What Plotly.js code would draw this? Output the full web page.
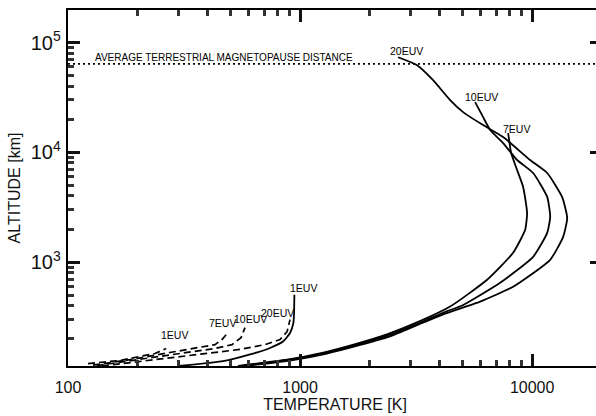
<!DOCTYPE html>
<html>
<head>
<meta charset="utf-8">
<script src="https://cdn.plot.ly/plotly-3.0.1.min.js"></script>
<style>
html,body{margin:0;padding:0;background:#fff;overflow:hidden;width:596px;height:416px;}
#chart{width:610px;height:416px;}
</style>
</head>
<body>
<div id="chart"></div>
<script>
// ---- data (temperature in K, altitude in km) ----
// dashed (cool) profiles
const dash1T = [122, 168, 204, 237, 265];
const dash1H = [119, 127, 138, 147, 163];
const dash7T = [128, 185, 275, 371, 430, 461, 480];
const dash7H = [115, 129, 150, 166, 177, 197, 218];
const dash10T = [133, 204, 304, 430, 509, 557, 579];
const dash10H = [114, 129, 147, 163, 177, 205, 253];
const dash20T = [140, 226, 371, 551, 706, 820, 879, 905];
const dash20H = [113, 127, 144, 160, 177, 197, 232, 299];
// solid profiles
const solid1T = [300, 466, 609, 742, 847, 905, 936, 942, 945];
const solid1H = [113, 125, 144, 165, 190, 226, 279, 344, 505];
const solid7T = [540, 880, 1230, 1730, 2400, 3340, 4432, 6397, 8279, 9330, 9510, 9146, 8614, 8121, 7960, 7880];
const solid7H = [113, 129, 148, 179, 222, 294, 393, 690, 1215, 1966, 2807, 4836, 6904, 9855, 12940, 14980];
const solid10T = [560, 905, 1256, 1761, 2443, 3390, 4300, 5000, 7278, 10100, 11610, 11960, 11610, 10100, 8614, 7499, 6592, 6149, 5680];
const solid10H = [113, 129, 147, 177, 218, 287, 357, 402, 648, 1117, 1846, 2582, 3923, 6480, 8511, 12150, 15950, 20940, 28660];
const solid20T = [580, 930, 1290, 1800, 2490, 3420, 4217, 5969, 8279, 11960, 13600, 14160, 13460, 11610, 9797, 7499, 6149, 5042, 4432, 3743, 3194, 2646];
const solid20H = [113, 128, 146, 175, 214, 283, 339, 436, 597, 1049, 1698, 2527, 3923, 6480, 8511, 13770, 17700, 23230, 29880, 45420, 62170, 73480];
// magnetopause
const magnetopauseKm = 64000;
const magnetopauseT = [100, 20000];
const magnetopauseText = 'AVERAGE TERRESTRIAL MAGNETOPAUSE DISTANCE';
// curve labels
const labelText = ['1EUV', '7EUV', '10EUV', '20EUV', '1EUV', '7EUV', '10EUV', '20EUV'];
const labelT    = [289, 461, 609, 796, 1030, 8590, 6067, 2884];
const labelH    = [218, 281, 305, 346, 583, 16180, 32030, 83870];
// axis ranges
const xRange = [100, 20000];
const yRange = [113, 198000];

const FONT = 'Liberation Sans, Arial, Helvetica, sans-serif';
const dashLine = {color: '#000', width: 1.7, dash: '7px,4px'};
const solidLine = {color: '#000', width: 1.8, shape: 'spline', smoothing: 0.5};

function tr(x, y, line) {
  return {x: x, y: y, type: 'scatter', mode: 'lines', line: line, hoverinfo: 'skip', showlegend: false};
}

const traces = [
  tr(dash1T, dash1H, dashLine),
  tr(dash7T, dash7H, dashLine),
  tr(dash10T, dash10H, dashLine),
  tr(dash20T, dash20H, dashLine),
  tr(solid1T, solid1H, solidLine),
  tr(solid7T, solid7H, solidLine),
  tr(solid10T, solid10H, solidLine),
  tr(solid20T, solid20H, solidLine),
  tr(magnetopauseT, [magnetopauseKm, magnetopauseKm], {color: '#000', width: 1.8, dash: '2px,3px'})
];

const annotations = labelText.map((t, i) => ({
  x: Math.log10(labelT[i]), y: Math.log10(labelH[i]), xref: 'x', yref: 'y',
  text: t, showarrow: false, font: {family: FONT, size: 10.5, color: '#000'},
  xanchor: 'center', yanchor: 'middle'
}));
annotations.push({
  x: Math.log10(128), y: Math.log10(73480), xref: 'x', yref: 'y',
  text: magnetopauseText, showarrow: false, font: {family: FONT, size: 10, color: '#000'},
  xanchor: 'left', yanchor: 'middle'
});

const axisCommon = {
  type: 'log', showgrid: false, zeroline: false,
  showline: true, linecolor: '#000', linewidth: 2, mirror: 'allticks',
  tickmode: 'linear', tick0: 0, dtick: 1,
  ticks: 'inside', ticklen: 12, tickwidth: 3, tickcolor: '#111',
  tickfont: {family: FONT, size: 16, color: '#111'},
  minor: {ticks: 'inside', ticklen: 6, tickwidth: 3, tickcolor: '#333', dtick: 'D1', showgrid: false}
};

const layout = {
  width: 610, height: 416,
  margin: {l: 68, r: 8, t: 10, b: 50},
  paper_bgcolor: '#fff', plot_bgcolor: '#fff',
  showlegend: false,
  xaxis: Object.assign({}, axisCommon, {
    range: xRange.map(Math.log10),
    tickformat: 'd',
    ticklabelstandoff: 6,
    title: {text: 'TEMPERATURE [K]', font: {family: FONT, size: 16, color: '#111'}, standoff: 4}
  }),
  yaxis: Object.assign({}, axisCommon, {
    range: yRange.map(Math.log10),
    exponentformat: 'power',
    ticklabelstandoff: 2,
    title: {text: 'ALTITUDE [km]', font: {family: FONT, size: 16, color: '#111'}, standoff: 6}
  }),
  annotations: annotations
};

Plotly.newPlot('chart', traces, layout, {staticPlot: true, displayModeBar: false});
</script>
</body>
</html>
